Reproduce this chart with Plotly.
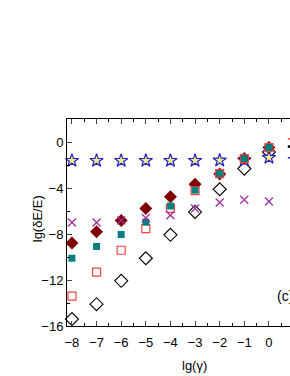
import plotly.graph_objects as go

gamma = [-8, -7, -6, -5, -4, -3, -2, -1, 0]
star_vals = [-1.6, -1.6, -1.6, -1.6, -1.6, -1.6, -1.57, -1.55, -1.33]
darkred_vals = [-8.78, -7.8, -6.8, -5.77, -4.75, -3.65, -2.75, -1.4, -0.45]
teal_vals = [-10.1, -9.07, -8.03, -6.95, -5.55, -4.17, -2.73, -1.42, -0.46]
redopen_vals = [-13.4, -11.3, -9.4, -7.52, -5.75, -4.2, -2.73, -1.42, -0.46]
blackopen_vals = [-15.4, -14.1, -12.06, -10.1, -8.06, -6.06, -4.09, -2.29, -0.84]
purple_vals = [-6.98, -6.98, -6.8, -6.6, -6.35, -5.77, -5.25, -5.0, -5.16]

x_ticks = [-8, -7, -6, -5, -4, -3, -2, -1, 0]
y_ticks = [0, -4, -8, -12, -16]

fig = go.Figure()

def add(y, symbol, size, color, fill, lw):
    fig.add_trace(go.Scatter(
        x=gamma, y=y, mode="markers",
        marker=dict(symbol=symbol, size=size, color=fill,
                    line=dict(color=color, width=lw)),
        showlegend=False, cliponaxis=False, hoverinfo="skip"))

add(blackopen_vals, "diamond-open", 10, "#000000", "#000000", 1.1)
add(star_vals, "star", 10, "#2020c8", "#f2ee88", 1.2)
add(darkred_vals, "diamond", 10, "#800000", "#800000", 0)
add(redopen_vals, "square-open", 8, "#ff4040", "#ff4040", 1.2)
add(teal_vals, "square", 7, "#008080", "#008080", 0)
add(purple_vals, "x-thin-open", 8, "#a030a0", "#a030a0", 1.3)

font = dict(family="Liberation Sans, Arial, sans-serif", size=13, color="black")

fig.update_layout(
    width=290, height=376,
    margin=dict(l=67, r=0, t=119, b=50),
    paper_bgcolor="white", plot_bgcolor="white",
    font=font,
    xaxis=dict(range=[-8.2, 0.855], tickvals=x_ticks, ticks="inside", ticklen=5,
               showline=True, linecolor="black", linewidth=1, mirror="allticks",
               showgrid=False, zeroline=False, tickfont=font, ticklabelstandoff=4,
               minor=dict(dtick=0.5, ticks="inside", ticklen=3, tickcolor="black", showgrid=False)),
    yaxis=dict(range=[-16, 2.03], tickvals=y_ticks, ticks="inside", ticklen=5,
               showline=True, linecolor="black", linewidth=1, mirror=False,
               showgrid=False, zeroline=False, tickfont=font,
               minor=dict(dtick=2, ticks="inside", ticklen=3, tickcolor="black", showgrid=False)),
    annotations=[
        dict(text="lg(γ)", xref="paper", yref="paper", x=0.57, y=-0.193,
             xanchor="center", yanchor="middle", showarrow=False, font=font),
        dict(text="lg(δE/E)", xref="paper", yref="paper", x=-0.135, y=0.52,
             xanchor="center", yanchor="middle", textangle=-90, showarrow=False, font=font),
        dict(text="(c)", xref="paper", yref="paper", x=0.933, y=0.145,
             xanchor="left", yanchor="middle", showarrow=False,
             font=dict(family="Liberation Sans, Arial, sans-serif", size=14, color="black")),
    ],
    shapes=[
        dict(type="line", xref="paper", yref="y", x0=0.99, x1=1.0, y0=0.3, y1=0.3,
             line=dict(color="#ff4040", width=1.5)),
        dict(type="line", xref="paper", yref="y", x0=0.99, x1=1.0, y0=-0.37, y1=-0.37,
             line=dict(color="black", width=2.5)),
        dict(type="line", xref="paper", yref="y", x0=0.99, x1=1.0, y0=-1.35, y1=-1.35,
             line=dict(color="#2020c8", width=1.5)),
    ],
)

fig.write_html("out.html", config={"displayModeBar": False},
               post_script="document.body.style.margin='0';document.body.style.overflow='hidden';")
